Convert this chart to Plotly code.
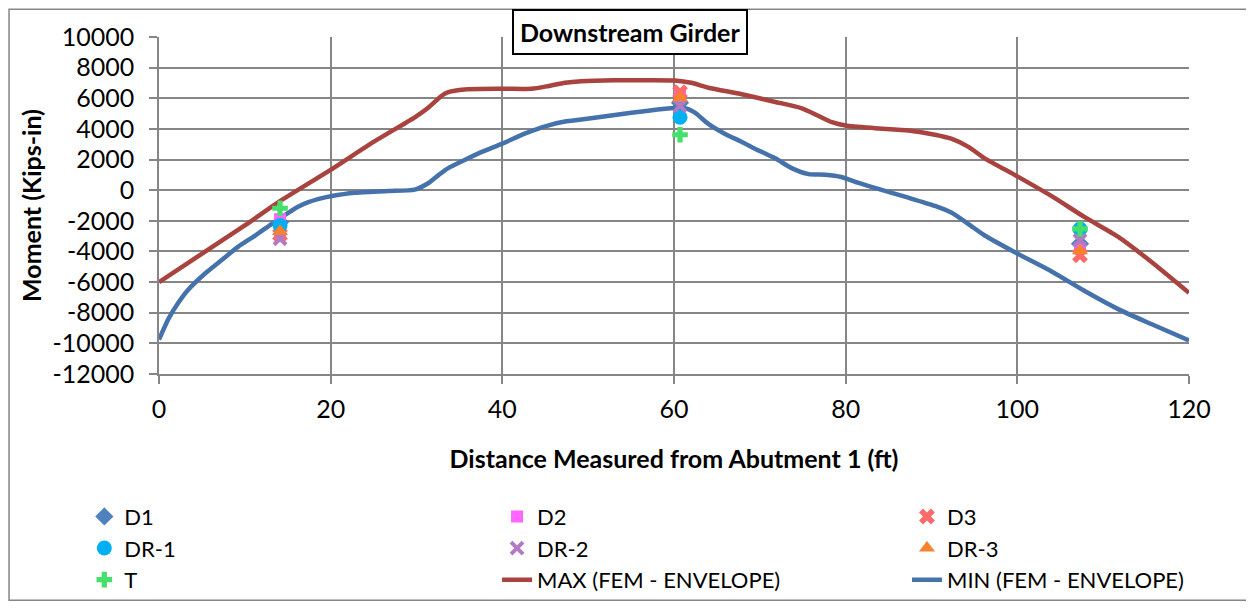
import plotly.graph_objects as go

# ---- data ----
max_x = [0, 10, 14, 20, 25, 29.8, 31.4, 32.9, 33.7, 35.6, 40, 43.4, 45.3, 47.3, 49.2, 53.1, 57, 60.1, 62, 64, 67.9, 71.8, 74.9, 76.8, 78.4, 80, 83.4, 87.3, 90.4, 92.3, 94.3, 96.2, 100, 104, 107.9, 111.8, 115.6, 120]
max_y = [-6000, -2300, -750, 1330, 3150, 4760, 5400, 6150, 6400, 6580, 6620, 6620, 6790, 7010, 7115, 7180, 7180, 7160, 7010, 6690, 6260, 5760, 5340, 4860, 4440, 4220, 4050, 3900, 3620, 3360, 2830, 2080, 900, -390, -1780, -3060, -4670, -6700]

min_x = [0, 1.1, 2.25, 3.4, 5.4, 7.3, 9.2, 11.2, 13.1, 15.1, 16.2, 17.4, 19, 20, 22.8, 26.7, 29.8, 31.4, 32.6, 33.7, 35.6, 37.6, 40, 42.6, 45.3, 47.3, 49.2, 53.1, 57, 60.1, 61.3, 62.4, 64, 65.9, 67.9, 69.8, 71.8, 73.7, 75.7, 77.6, 79.5, 81.5, 83.4, 87.3, 90.4, 92.3, 94.3, 96.2, 100, 104, 107.9, 111.8, 115.6, 120]
min_y = [-9750, -8400, -7350, -6500, -5420, -4560, -3700, -2960, -2210, -1460, -1080, -780, -520, -400, -170, -60, 40, 470, 1000, 1440, 1970, 2500, 3040, 3690, 4220, 4480, 4610, 4910, 5190, 5360, 5360, 5080, 4330, 3690, 3150, 2610, 2080, 1440, 1050, 1010, 860, 470, 150, -490, -1030, -1460, -2210, -2960, -4140, -5310, -6600, -7780, -8740, -9810]

gauge_x = [14.1, 60.7, 107.3]
d1 = [-2100, 5700, -3500]
d2 = [-1890, 6150, -3800]
d3 = [-2900, 6400, -4250]
dr1 = [-2310, 4760, -2530]
dr2 = [-3170, 5500, -3280]
dr3 = [-2680, 6040, -3950]
t = [-1180, 3620, -2530]

x_ticks = [0, 20, 40, 60, 80, 100, 120]
y_ticks = [10000, 8000, 6000, 4000, 2000, 0, -2000, -4000, -6000, -8000, -10000, -12000]

FONT = "Lato"
GRID = "#868686"

fig = go.Figure()

fig.add_trace(go.Scatter(x=max_x, y=max_y, mode="lines", name="MAX (FEM - ENVELOPE)",
                         legend="legend2", legendrank=3,
                         line=dict(color="#A9433F", width=4.5, shape="spline", smoothing=0.6)))
fig.add_trace(go.Scatter(x=min_x, y=min_y, mode="lines", name="MIN (FEM - ENVELOPE)",
                         legend="legend3", legendrank=3,
                         line=dict(color="#4672AC", width=4.5, shape="spline", smoothing=0.6)))

def pts(name, y, symbol, color, legend, rank, size=13, lw=0):
    fig.add_trace(go.Scatter(x=gauge_x, y=y, mode="markers", name=name,
                             legend=legend, legendrank=rank,
                             marker=dict(symbol=symbol, color=color, size=size,
                                         line=dict(width=lw, color=color))))

pts("D1", d1, "diamond", "#4F81BD", "legend", 1, 14)
pts("D2", d2, "square", "#FF66FF", "legend2", 1, 12)
pts("D3", d3, "x", "#FF6B6B", "legend3", 1, 14)
pts("DR-1", dr1, "circle", "#00B0F0", "legend", 2, 15)
pts("DR-2", dr2, "x-thin", "#B479C3", "legend2", 2, 12, 4)
pts("DR-3", dr3, "triangle-up", "#F7822B", "legend3", 2, 14)
pts("T", t, "cross", "#45E06B", "legend", 3, 13)

leg_common = dict(orientation="v", xanchor="left", y=-0.361, yanchor="top",
                  traceorder="normal", font=dict(size=22, family=FONT, color="black"),
                  tracegroupgap=0, itemsizing="trace", bgcolor="rgba(0,0,0,0)")

# page body has an 8px margin, so the figure is 8px smaller than the window
fig.update_layout(
    template="none",
    width=1246, height=605,
    margin=dict(l=151, r=65, t=29, b=235),
    paper_bgcolor="white", plot_bgcolor="white",
    font=dict(family=FONT, color="black"),
    showlegend=True,
    legend=dict(x=-0.0725, **leg_common),
    legend2=dict(x=0.3282, **leg_common),
    legend3=dict(x=0.7262, **leg_common),
    annotations=[dict(text="<b>Downstream Girder</b>", xref="paper", yref="paper",
                      x=0.4573, y=1.0147, xanchor="center", yanchor="middle", showarrow=False,
                      font=dict(size=25, family=FONT, color="black"),
                      bgcolor="white", bordercolor="black", borderwidth=2, borderpad=6)],
    shapes=[dict(type="rect", xref="paper", yref="paper",
                 x0=-0.1456, x1=1.0573, y0=-0.6716, y1=1.0821,
                 line=dict(color=GRID, width=1.5), layer="below")],
)

fig.update_xaxes(range=[0, 120], tickvals=x_ticks, ticktext=[str(v) for v in x_ticks],
                 showgrid=True, gridcolor=GRID, gridwidth=1.5, automargin=False,
                 showline=True, linecolor=GRID, linewidth=1.5, mirror=False,
                 ticks="outside", ticklen=8, tickcolor=GRID, tickwidth=1.5,
                 zeroline=False, tickfont=dict(size=25, family=FONT, color="black"),
                 ticklabelstandoff=4,
                 title=dict(text="<b>Distance Measured from Abutment 1 (ft)</b>",
                            font=dict(size=25, family=FONT, color="black"), standoff=29))
fig.update_yaxes(range=[-12000, 10000], tickvals=y_ticks, ticktext=[str(v) for v in y_ticks],
                 showgrid=True, gridcolor=GRID, gridwidth=1.5, automargin=False,
                 showline=True, linecolor=GRID, linewidth=1.5,
                 ticks="outside", ticklen=8, tickcolor=GRID, tickwidth=1.5,
                 zeroline=False, tickfont=dict(size=25, family=FONT, color="black"), ticklabelstandoff=10,
                 title=dict(text="<b>Moment (Kips-in)</b>", font=dict(size=25, family=FONT, color="black"), standoff=4))

fig.write_html("out.html")
